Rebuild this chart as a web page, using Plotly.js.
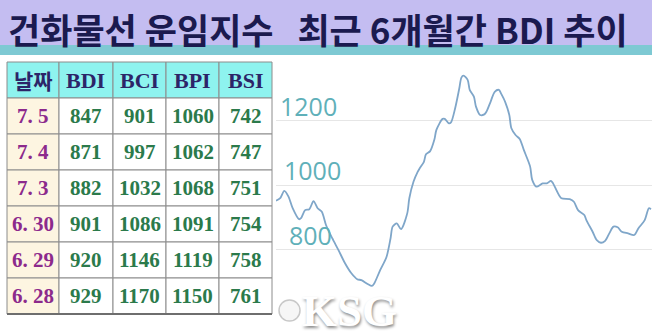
<!DOCTYPE html>
<html>
<head>
<meta charset="utf-8">
<script src="https://cdn.plot.ly/plotly-3.0.1.min.js"></script>
<style>html,body{margin:0;padding:0;background:#fff;}#chart{width:652px;height:334px;}</style>
</head>
<body>
<div id="chart"></div>
<script>
// ---- data ----
const titleText = '건화물선 운임지수&nbsp;&nbsp;&nbsp;최근 6개월간 BDI 추이';
const tableHeaders = ['날짜', 'BDI', 'BCI', 'BPI', 'BSI'];
const dates = ['7. 5', '7. 4', '7. 3', '6. 30', '6. 29', '6. 28'];
const bdiTable = [847, 871, 882, 901, 920, 929];
const bciTable = [901, 997, 1032, 1086, 1146, 1170];
const bpiTable = [1060, 1062, 1068, 1091, 1119, 1150];
const bsiTable = [742, 747, 751, 754, 758, 761];

// six-month BDI trend (day offset, index value)
const trendDays = [0,2,4,6,8,11,12,14,16,18,20,22,24,27,30,33,36,39,41,44,46,47,50,53,55,56,58,60,63,64,66,68,69,71,72,74,76,77,80,81,83,84,86,88,89,90,92,93,95,96,98,100,101,103,105,107,108,110,112,113,115,117,119,122,123,125,128,130,132,133,135,137,141,143,145,148,149,152,154,156,158,160,162,164,166,169,172,174,177,179,180];
const trendBDI = [951,959,982,964,928,894,897,922,925,950,928,917,876,835,798,759,728,708,705,693,687,693,736,776,835,871,881,863,912,959,1010,1041,1052,1072,1095,1105,1140,1171,1205,1205,1191,1194,1238,1300,1333,1339,1326,1295,1274,1243,1217,1219,1227,1258,1289,1295,1284,1258,1217,1176,1155,1143,1108,1057,1016,995,1005,1005,1013,1005,979,959,956,948,922,907,891,855,829,821,827,850,871,869,855,850,845,866,891,928,925];
const axisTicks = [800, 1000, 1200];
const axisTickLabels = ['800', '1000', '1200'];
const watermark = 'KSG';

// ---- layout helpers ----
const W = 652, H = 334;
const px = x => x / W;
const py = y => 1 - y / H;

const lineTrace = {
  type: 'scatter', mode: 'lines',
  x: trendDays, y: trendBDI,
  line: {color: '#7fa6c9', width: 1.8, shape: 'spline', smoothing: 0.8},
  hoverinfo: 'skip', xaxis: 'x', yaxis: 'y'
};

const annotations = [];
const shapes = [
  {type: 'rect', xref: 'paper', yref: 'paper', x0: 0, x1: 1, y0: py(45), y1: 1, fillcolor: '#c4bdf1', line: {width: 0}, layer: 'below'},
  {type: 'rect', xref: 'paper', yref: 'paper', x0: 0, x1: 1, y0: py(55), y1: py(45), fillcolor: '#7ec9d3', line: {width: 0}, layer: 'below'}
];

// ---- table built from the arrays ----
const colEdges = [7, 59, 113, 166, 219, 272];
const tableTop = 62, rowH = 36;
const columns = [dates, bdiTable, bciTable, bpiTable, bsiTable];
const serif = 'Liberation Serif';
const nRows = dates.length + 1;
for (let r = 0; r < nRows; r++) {
  for (let c = 0; c < columns.length; c++) {
    const x0 = colEdges[c], x1 = colEdges[c + 1];
    const y0 = tableTop + r * rowH, y1 = y0 + rowH;
    const fill = r === 0 ? '#8ef3ef' : (c === 0 ? '#fdf5e1' : '#ffffff');
    shapes.push({type: 'rect', xref: 'paper', yref: 'paper', x0: px(x0), x1: px(x1), y0: py(y1), y1: py(y0),
                 fillcolor: fill, line: {color: '#8c8c8c', width: 1}, layer: 'below'});
    let text, font;
    if (r === 0) {
      text = tableHeaders[c];
      font = c === 0 ? {family: 'Noto Sans CJK KR', size: 21, color: '#2c2568', weight: 'bold'}
                     : {family: serif, size: 22, color: '#2c2568', weight: 'bold'};
    } else {
      text = String(columns[c][r - 1]);
      font = {family: serif, size: 21, color: c === 0 ? '#8c2a8c' : '#2b7a4b', weight: 'bold'};
    }
    annotations.push({xref: 'paper', yref: 'paper', x: px((x0 + x1) / 2), y: py((y0 + y1) / 2),
                      xanchor: 'center', yanchor: 'middle', showarrow: false, text: text, font: font});
  }
}
const tableBottom = tableTop + nRows * rowH;
shapes.push({type: 'line', xref: 'paper', yref: 'paper', x0: px(colEdges[0]), x1: px(colEdges[5]),
             y0: py(tableBottom), y1: py(tableBottom), line: {color: '#6e6e6e', width: 2}});

// ---- axis labels inside the plot ----
const labelX = [287, 282, 278];
axisTicks.forEach((v, i) => annotations.push({
  xref: 'paper', yref: 'y', x: px(labelX[i]), y: v,
  xanchor: 'left', yanchor: 'bottom', yshift: -4, showarrow: false,
  text: axisTickLabels[i],
  font: {family: 'Open Sans', size: 25, color: '#5fb0b9'}
}));

annotations.push({
  xref: 'paper', yref: 'paper', x: px(6), y: py(28), xanchor: 'left', yanchor: 'middle',
  showarrow: false, text: titleText,
  font: {family: 'Noto Sans CJK KR', size: 35, color: '#1b1a4f', weight: 'bold'}
});
shapes.push({type: 'circle', xref: 'paper', yref: 'paper', x0: px(279), x1: px(300), y0: py(321), y1: py(300),
             fillcolor: '#f6f6f6', line: {color: '#c8c8c8', width: 1.5}});
annotations.push({
  xref: 'paper', yref: 'paper', x: px(349), y: py(311), xanchor: 'center', yanchor: 'middle',
  showarrow: false, text: watermark,
  font: {family: serif, size: 45, color: '#ffffff', weight: 'bold', shadow: '1px 2px 3px #8a8a8a'}
});

const layout = {
  width: W, height: H,
  margin: {l: 0, r: 0, t: 0, b: 0},
  paper_bgcolor: '#ffffff', plot_bgcolor: 'rgba(0,0,0,0)',
  showlegend: false,
  xaxis: {domain: [px(276), 1], range: [0, 180.5], visible: false, fixedrange: true},
  yaxis: {domain: [py(320), py(62)], range: [581.4, 1381.4], tickvals: axisTicks,
          showticklabels: false, showgrid: true, gridcolor: '#e6e6e6', gridwidth: 1,
          zeroline: false, showline: false, ticks: '', fixedrange: true},
  annotations: annotations,
  shapes: shapes
};

Plotly.newPlot('chart', [lineTrace], layout, {displayModeBar: false, staticPlot: true});
</script>
</body>
</html>
